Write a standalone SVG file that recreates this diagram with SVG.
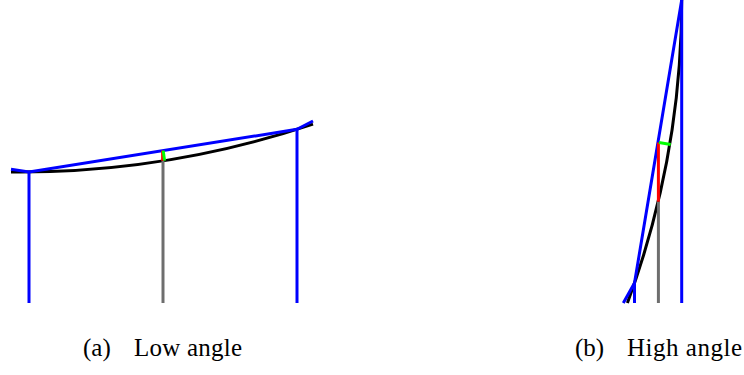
<svg xmlns="http://www.w3.org/2000/svg" width="744" height="375" viewBox="0 0 744 375">
<style>
.ln{fill:none;stroke-width:3;stroke-linecap:butt;stroke-linejoin:miter}
.crv{stroke:#000}
.blu{stroke:#0000ff}
.gry{stroke:#6e6e6e}
.red{stroke:#ff0000}
.grn{stroke:#00ff00}
.cap{font-family:"Liberation Serif","Times New Roman",serif;font-size:25px;fill:#000}
</style>
<rect width="744" height="375" fill="#fff"/>
<g id="panel-a">
<path class="ln crv" d="M11,171.96 A919.8,919.8 0 0 0 313,124.1"/>
<line class="ln gry" x1="163" y1="303" x2="163" y2="160.8"/>
<polyline class="ln blu" points="11,169.3 29,171.96 297,129.3 313,121"/>
<line class="ln blu" x1="29" y1="171.96" x2="29" y2="303"/>
<line class="ln blu" x1="297" y1="129.3" x2="297" y2="303"/>
<line class="ln red" x1="162.6" y1="160.8" x2="162.6" y2="150.6"/>
<line class="ln grn" x1="163.2" y1="150.6" x2="164.6" y2="160.6"/>
</g>
<g id="panel-b">
<path class="ln crv" d="M627.4,303 A872,872 0 0 0 681.7,0"/>
<line class="ln gry" x1="658.4" y1="303" x2="658.4" y2="201.7"/>
<polyline class="ln blu" points="623.3,303 634.5,283 681.7,0"/>
<line class="ln blu" x1="634.5" y1="283" x2="634.5" y2="303"/>
<line class="ln blu" x1="681.7" y1="0" x2="681.7" y2="303"/>
<line class="ln red" x1="658.4" y1="201.7" x2="658.4" y2="142.5"/>
<line class="ln grn" x1="658.9" y1="142.5" x2="670.7" y2="144.5"/>
</g>
<g id="caption-a"><text class="cap" y="356"><tspan x="83">(a)</tspan><tspan x="134" textLength="108">Low angle</tspan></text></g>
<g id="caption-b"><text class="cap" y="356"><tspan x="575">(b)</tspan><tspan x="627" textLength="115">High angle</tspan></text></g>
</svg>
